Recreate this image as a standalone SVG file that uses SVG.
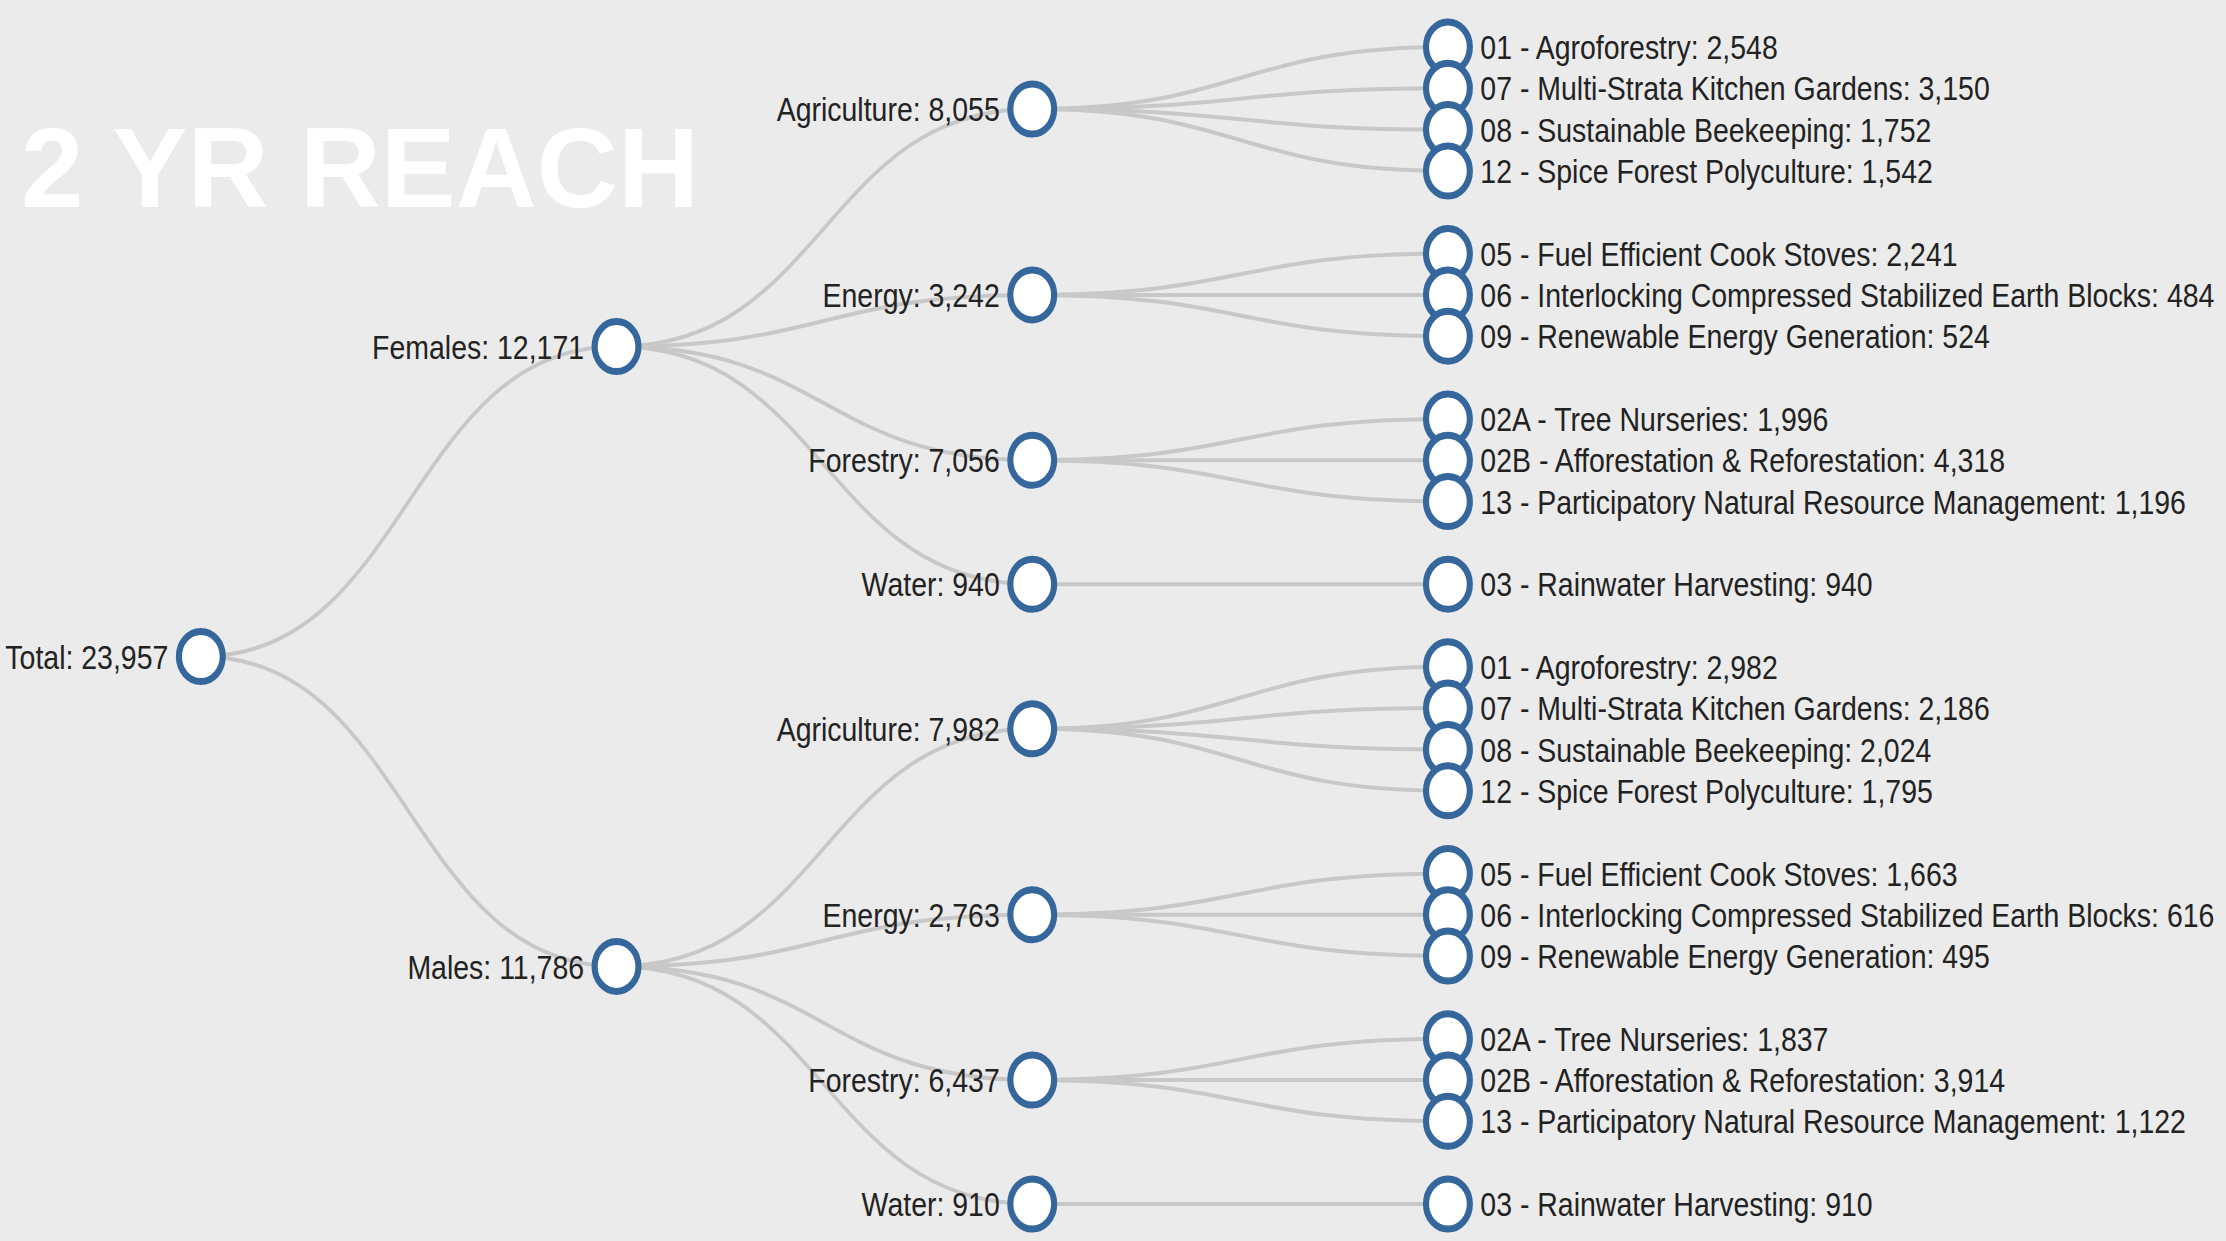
<svg xmlns="http://www.w3.org/2000/svg" width="2226" height="1241" viewBox="0 0 2226 1241">
<style>
.bg{fill:#ebebeb}
.link{fill:none;stroke:#c8c8c8;stroke-width:4}
.node circle{fill:#ffffff;stroke:#36679c;stroke-width:7}
.node text{font-family:"Liberation Sans",Arial,sans-serif;font-size:34px;fill:#222222;transform:scale(0.955,1)}
.inner text{text-anchor:end}
.leaf text{text-anchor:start}
.title{font-family:"Liberation Sans",Arial,sans-serif;font-size:113px;font-weight:bold;fill:#ffffff}
</style>
<rect class="bg" x="0" y="0" width="2226" height="1241"/>
<text class="title" x="21" y="207" textLength="678" lengthAdjust="spacingAndGlyphs">2 YR REACH</text>
<g transform="scale(0.877,1)">
<g id="connectors">
<path class="link" d="M229,656.5 C466,656.5 466,346.6 703,346.6"/>
<path class="link" d="M229,656.5 C466,656.5 466,966.4 703,966.4"/>
<path class="link" d="M703,346.6 C940,346.6 940,109 1177,109"/>
<path class="link" d="M703,346.6 C940,346.6 940,294.9 1177,294.9"/>
<path class="link" d="M703,346.6 C940,346.6 940,460.2 1177,460.2"/>
<path class="link" d="M703,346.6 C940,346.6 940,584.2 1177,584.2"/>
<path class="link" d="M703,966.4 C940,966.4 940,728.8 1177,728.8"/>
<path class="link" d="M703,966.4 C940,966.4 940,914.7 1177,914.7"/>
<path class="link" d="M703,966.4 C940,966.4 940,1080 1177,1080"/>
<path class="link" d="M703,966.4 C940,966.4 940,1204 1177,1204"/>
<path class="link" d="M1177,109 C1414,109 1414,47 1651,47"/>
<path class="link" d="M1177,109 C1414,109 1414,88.3 1651,88.3"/>
<path class="link" d="M1177,109 C1414,109 1414,129.6 1651,129.6"/>
<path class="link" d="M1177,109 C1414,109 1414,171 1651,171"/>
<path class="link" d="M1177,294.9 C1414,294.9 1414,253.6 1651,253.6"/>
<path class="link" d="M1177,294.9 C1414,294.9 1414,294.9 1651,294.9"/>
<path class="link" d="M1177,294.9 C1414,294.9 1414,336.2 1651,336.2"/>
<path class="link" d="M1177,460.2 C1414,460.2 1414,418.9 1651,418.9"/>
<path class="link" d="M1177,460.2 C1414,460.2 1414,460.2 1651,460.2"/>
<path class="link" d="M1177,460.2 C1414,460.2 1414,501.5 1651,501.5"/>
<path class="link" d="M1177,584.2 C1414,584.2 1414,584.2 1651,584.2"/>
<path class="link" d="M1177,728.8 C1414,728.8 1414,666.8 1651,666.8"/>
<path class="link" d="M1177,728.8 C1414,728.8 1414,708.1 1651,708.1"/>
<path class="link" d="M1177,728.8 C1414,728.8 1414,749.4 1651,749.4"/>
<path class="link" d="M1177,728.8 C1414,728.8 1414,790.8 1651,790.8"/>
<path class="link" d="M1177,914.7 C1414,914.7 1414,873.4 1651,873.4"/>
<path class="link" d="M1177,914.7 C1414,914.7 1414,914.7 1651,914.7"/>
<path class="link" d="M1177,914.7 C1414,914.7 1414,956 1651,956"/>
<path class="link" d="M1177,1080 C1414,1080 1414,1038.7 1651,1038.7"/>
<path class="link" d="M1177,1080 C1414,1080 1414,1080 1651,1080"/>
<path class="link" d="M1177,1080 C1414,1080 1414,1121.3 1651,1121.3"/>
<path class="link" d="M1177,1204 C1414,1204 1414,1204 1651,1204"/>
</g>
<g id="n-total" class="node inner"><circle cx="229" cy="656.5" r="25"/><text x="201" y="668.7">Total: 23,957</text></g>
<g id="n-females" class="node inner"><circle cx="703" cy="346.6" r="25"/><text x="697.4" y="358.8">Females: 12,171</text></g>
<g id="n-f-agriculture" class="node inner"><circle cx="1177" cy="109" r="25"/><text x="1193.7" y="121.2">Agriculture: 8,055</text></g>
<g id="n-f-agri-01" class="node leaf"><circle cx="1651" cy="47" r="25"/><text x="1767.5" y="59.2">01 - Agroforestry: 2,548</text></g>
<g id="n-f-agri-07" class="node leaf"><circle cx="1651" cy="88.3" r="25"/><text x="1767.5" y="100.5">07 - Multi-Strata Kitchen Gardens: 3,150</text></g>
<g id="n-f-agri-08" class="node leaf"><circle cx="1651" cy="129.6" r="25"/><text x="1767.5" y="141.8">08 - Sustainable Beekeeping: 1,752</text></g>
<g id="n-f-agri-12" class="node leaf"><circle cx="1651" cy="171" r="25"/><text x="1767.5" y="183.2">12 - Spice Forest Polyculture: 1,542</text></g>
<g id="n-f-energy" class="node inner"><circle cx="1177" cy="294.9" r="25"/><text x="1193.7" y="307.1">Energy: 3,242</text></g>
<g id="n-f-energy-05" class="node leaf"><circle cx="1651" cy="253.6" r="25"/><text x="1767.5" y="265.8">05 - Fuel Efficient Cook Stoves: 2,241</text></g>
<g id="n-f-energy-06" class="node leaf"><circle cx="1651" cy="294.9" r="25"/><text x="1767.5" y="307.1">06 - Interlocking Compressed Stabilized Earth Blocks: 484</text></g>
<g id="n-f-energy-09" class="node leaf"><circle cx="1651" cy="336.2" r="25"/><text x="1767.5" y="348.4">09 - Renewable Energy Generation: 524</text></g>
<g id="n-f-forestry" class="node inner"><circle cx="1177" cy="460.2" r="25"/><text x="1193.7" y="472.4">Forestry: 7,056</text></g>
<g id="n-f-forestry-02a" class="node leaf"><circle cx="1651" cy="418.9" r="25"/><text x="1767.5" y="431.1">02A - Tree Nurseries: 1,996</text></g>
<g id="n-f-forestry-02b" class="node leaf"><circle cx="1651" cy="460.2" r="25"/><text x="1767.5" y="472.4">02B - Afforestation &amp; Reforestation: 4,318</text></g>
<g id="n-f-forestry-13" class="node leaf"><circle cx="1651" cy="501.5" r="25"/><text x="1767.5" y="513.7">13 - Participatory Natural Resource Management: 1,196</text></g>
<g id="n-f-water" class="node inner"><circle cx="1177" cy="584.2" r="25"/><text x="1193.7" y="596.4">Water: 940</text></g>
<g id="n-f-water-03" class="node leaf"><circle cx="1651" cy="584.2" r="25"/><text x="1767.5" y="596.4">03 - Rainwater Harvesting: 940</text></g>
<g id="n-males" class="node inner"><circle cx="703" cy="966.4" r="25"/><text x="697.4" y="978.6">Males: 11,786</text></g>
<g id="n-m-agriculture" class="node inner"><circle cx="1177" cy="728.8" r="25"/><text x="1193.7" y="741">Agriculture: 7,982</text></g>
<g id="n-m-agri-01" class="node leaf"><circle cx="1651" cy="666.8" r="25"/><text x="1767.5" y="679">01 - Agroforestry: 2,982</text></g>
<g id="n-m-agri-07" class="node leaf"><circle cx="1651" cy="708.1" r="25"/><text x="1767.5" y="720.3">07 - Multi-Strata Kitchen Gardens: 2,186</text></g>
<g id="n-m-agri-08" class="node leaf"><circle cx="1651" cy="749.4" r="25"/><text x="1767.5" y="761.6">08 - Sustainable Beekeeping: 2,024</text></g>
<g id="n-m-agri-12" class="node leaf"><circle cx="1651" cy="790.8" r="25"/><text x="1767.5" y="803">12 - Spice Forest Polyculture: 1,795</text></g>
<g id="n-m-energy" class="node inner"><circle cx="1177" cy="914.7" r="25"/><text x="1193.7" y="926.9">Energy: 2,763</text></g>
<g id="n-m-energy-05" class="node leaf"><circle cx="1651" cy="873.4" r="25"/><text x="1767.5" y="885.6">05 - Fuel Efficient Cook Stoves: 1,663</text></g>
<g id="n-m-energy-06" class="node leaf"><circle cx="1651" cy="914.7" r="25"/><text x="1767.5" y="926.9">06 - Interlocking Compressed Stabilized Earth Blocks: 616</text></g>
<g id="n-m-energy-09" class="node leaf"><circle cx="1651" cy="956" r="25"/><text x="1767.5" y="968.2">09 - Renewable Energy Generation: 495</text></g>
<g id="n-m-forestry" class="node inner"><circle cx="1177" cy="1080" r="25"/><text x="1193.7" y="1092.2">Forestry: 6,437</text></g>
<g id="n-m-forestry-02a" class="node leaf"><circle cx="1651" cy="1038.7" r="25"/><text x="1767.5" y="1050.9">02A - Tree Nurseries: 1,837</text></g>
<g id="n-m-forestry-02b" class="node leaf"><circle cx="1651" cy="1080" r="25"/><text x="1767.5" y="1092.2">02B - Afforestation &amp; Reforestation: 3,914</text></g>
<g id="n-m-forestry-13" class="node leaf"><circle cx="1651" cy="1121.3" r="25"/><text x="1767.5" y="1133.5">13 - Participatory Natural Resource Management: 1,122</text></g>
<g id="n-m-water" class="node inner"><circle cx="1177" cy="1204" r="25"/><text x="1193.7" y="1216.2">Water: 910</text></g>
<g id="n-m-water-03" class="node leaf"><circle cx="1651" cy="1204" r="25"/><text x="1767.5" y="1216.2">03 - Rainwater Harvesting: 910</text></g>
</g>
</svg>
